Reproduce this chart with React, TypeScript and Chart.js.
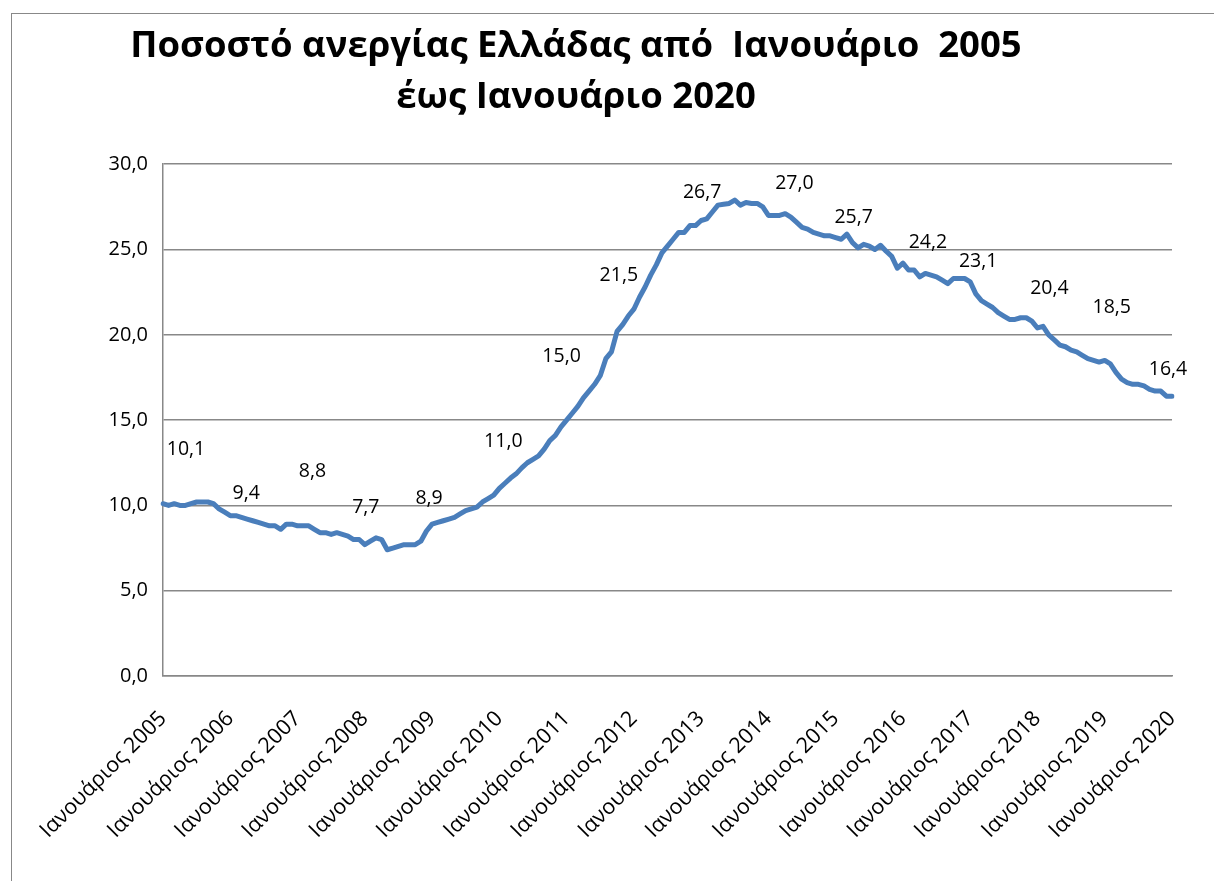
import React, { useEffect, useRef } from 'react';
import { Chart, registerables } from 'chart.js';

Chart.register(...registerables);

// ---- Data (monthly unemployment rate, %) ----
const years = [2005, 2006, 2007, 2008, 2009, 2010, 2011, 2012, 2013, 2014, 2015, 2016, 2017, 2018, 2019, 2020];
const monthNames = ['Ιανουάριος', 'Φεβρουάριος', 'Μάρτιος', 'Απρίλιος', 'Μάιος', 'Ιούνιος', 'Ιούλιος', 'Αύγουστος', 'Σεπτέμβριος', 'Οκτώβριος', 'Νοέμβριος', 'Δεκέμβριος'];

const u2005 = [10.1, 10.0, 10.1, 10.0, 10.0, 10.1, 10.2, 10.2, 10.2, 10.1, 9.8, 9.6];
const u2006 = [9.4, 9.4, 9.3, 9.2, 9.1, 9.0, 8.9, 8.8, 8.8, 8.6, 8.9, 8.9];
const u2007 = [8.8, 8.8, 8.8, 8.6, 8.4, 8.4, 8.3, 8.4, 8.3, 8.2, 8.0, 8.0];
const u2008 = [7.7, 7.9, 8.1, 8.0, 7.4, 7.5, 7.6, 7.7, 7.7, 7.7, 7.9, 8.5];
const u2009 = [8.9, 9.0, 9.1, 9.2, 9.3, 9.5, 9.7, 9.8, 9.9, 10.2, 10.4, 10.6];
const u2010 = [11.0, 11.3, 11.6, 11.85, 12.2, 12.5, 12.7, 12.9, 13.3, 13.8, 14.1, 14.6];
const u2011 = [15.0, 15.4, 15.8, 16.3, 16.7, 17.1, 17.6, 18.6, 19.0, 20.2, 20.6, 21.1];
const u2012 = [21.5, 22.2, 22.8, 23.5, 24.1, 24.8, 25.2, 25.6, 26.0, 26.0, 26.4, 26.4];
const u2013 = [26.7, 26.8, 27.2, 27.6, 27.65, 27.7, 27.9, 27.6, 27.75, 27.7, 27.7, 27.5];
const u2014 = [27.0, 27.0, 27.0, 27.1, 26.9, 26.6, 26.3, 26.2, 26.0, 25.9, 25.8, 25.8];
const u2015 = [25.7, 25.6, 25.9, 25.4, 25.1, 25.3, 25.2, 25.0, 25.25, 24.9, 24.6, 23.9];
const u2016 = [24.2, 23.8, 23.8, 23.4, 23.6, 23.5, 23.4, 23.2, 23.0, 23.3, 23.3, 23.3];
const u2017 = [23.1, 22.4, 22.0, 21.8, 21.6, 21.3, 21.1, 20.9, 20.9, 21.0, 21.0, 20.8];
const u2018 = [20.4, 20.5, 20.0, 19.7, 19.4, 19.3, 19.1, 19.0, 18.8, 18.6, 18.5, 18.4];
const u2019 = [18.5, 18.3, 17.8, 17.4, 17.2, 17.1, 17.1, 17.0, 16.8, 16.7, 16.7, 16.4];
const u2020 = [16.4];

const yTicks = [0, 5, 10, 15, 20, 25, 30];

const titleLines = ['Ποσοστό ανεργίας Ελλάδας από  Ιανουάριο  2005', 'έως Ιανουάριο 2020'];

// ---- Derived structures ----
const values: number[] = [
  ...u2005, ...u2006, ...u2007, ...u2008, ...u2009, ...u2010, ...u2011, ...u2012,
  ...u2013, ...u2014, ...u2015, ...u2016, ...u2017, ...u2018, ...u2019, ...u2020,
];
const categories: string[] = [];
years.forEach((yr) => {
  monthNames.forEach((m) => {
    if (categories.length < values.length) categories.push(`${m} ${yr}`);
  });
});

// Style: manual placement offsets (px) of the January value labels, as in the original
const labelShiftX = [23, 16, 15, 1, -3, 4, -5, -15, 1, 26, 18, 25, 8, 12, 7, -4];
const labelShiftY = [-54, -22, -54, -37, -26, -47, -64, -34, -28, -32, -20, -21, -20, -40, -53, -27];

const FONT = '"Open Sans", "Noto Sans", sans-serif';
const fmt = (v: number) => v.toFixed(1).replace('.', ',');

const janLabels = {
  id: 'janLabels',
  afterDatasetsDraw(chart: any) {
    const { ctx } = chart;
    const xs = chart.scales.x;
    const ys = chart.scales.y;
    ctx.save();
    ctx.font = `19.5px ${FONT}`;
    ctx.fillStyle = '#000';
    ctx.textAlign = 'center';
    ctx.textBaseline = 'middle';
    years.forEach((_, k) => {
      const idx = k * 12;
      if (idx >= values.length) return;
      const v = values[idx];
      const px = xs.getPixelForValue(idx) + labelShiftX[k];
      const py = ys.getPixelForValue(v) + labelShiftY[k];
      ctx.fillText(fmt(v), px, py);
    });
    ctx.restore();
  },
};

export default function App() {
  const ref = useRef<HTMLCanvasElement | null>(null);

  useEffect(() => {
    if (!ref.current) return;
    const chart = new Chart(ref.current, {
      type: 'line',
      data: {
        labels: categories,
        datasets: [
          {
            data: values,
            borderColor: '#4a7ebb',
            borderWidth: 5,
            pointRadius: 0,
            tension: 0,
            fill: false,
            borderJoinStyle: 'round',
            borderCapStyle: 'round',
          },
        ],
      },
      options: {
        animation: false,
        responsive: false,
        layout: { padding: { left: 0, right: 42, top: 0, bottom: 0 } },
        plugins: {
          legend: { display: false },
          tooltip: { enabled: false },
          title: {
            display: true,
            text: titleLines,
            color: '#000',
            font: { family: FONT, size: 36.5, weight: 'bold', lineHeight: 1.4 },
            padding: { top: 21, bottom: 41 },
          },
        },
        scales: {
          x: {
            type: 'category',
            grid: { display: false, drawTicks: false },
            border: { display: true, color: '#888', width: 1.5 },
            ticks: {
              autoSkip: false,
              maxRotation: 45,
              minRotation: 45,
              padding: 30,
              color: '#000',
              font: { family: FONT, size: 21.5 },
              callback: (_v: any, i: number) => (i % 12 === 0 ? categories[i] : null),
            },
            afterFit: (s: any) => {
              s.height = 205;
              s.paddingLeft = 0;
              s.paddingRight = 0;
            },
          },
          y: {
            min: 0,
            max: 30,
            afterBuildTicks: (s: any) => {
              s.ticks = yTicks.map((v) => ({ value: v }));
            },
            grid: { color: '#888', lineWidth: 1.5, drawTicks: false },
            border: { display: true, color: '#888', width: 1.5 },
            ticks: {
              padding: 15,
              color: '#000',
              font: { family: FONT, size: 20 },
              callback: (v: any) => fmt(Number(v)),
            },
            afterFit: (s: any) => {
              s.width = 183;
              s.paddingTop = 0;
              s.paddingBottom = 0;
            },
          },
        },
      },
      plugins: [janLabels],
    });
    return () => chart.destroy();
  }, []);

  return (
    <>
      <div style={{ position: 'fixed', left: -20, top: 0, width: 1234, height: 881, background: '#fff' }}>
        <canvas ref={ref} width={1234} height={881} style={{ display: 'block', width: 1234, height: 881 }} />
      </div>
      <div
        style={{
          position: 'fixed',
          left: 11,
          top: 13,
          right: 0,
          bottom: 0,
          borderLeft: '1.5px solid #888',
          borderTop: '1.5px solid #888',
          pointerEvents: 'none',
        }}
      />
    </>
  );
}
